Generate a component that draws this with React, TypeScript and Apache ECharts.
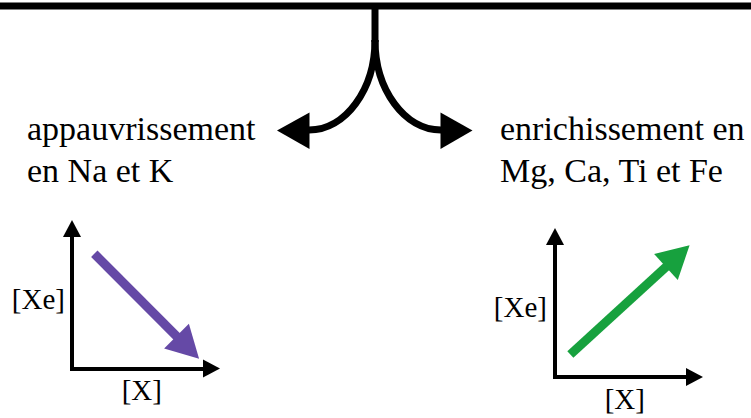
import React, { useEffect, useRef } from "react";
import * as echarts from "echarts";

// Labels of the two branches
const leftLabel = ["appauvrissement", "en Na et K"];
const rightLabel = ["enrichissement en", "Mg, Ca, Ti et Fe"];
// Axis names of the two small plots
const axisNameX = "[X]";
const axisNameY = "[Xe]";
// Trend arrows (start, end) in axis units 0..10
const depletionArrow = [
  [1.6, 8.2],
  [8.3, 1.5],
];
const enrichmentArrow = [
  [1.1, 1.6],
  [8.8, 8.6],
];

const PURPLE = "#6549A6";
const GREEN = "#17A13E";
const SERIF = "Liberation Serif";

function xAxis(gridIndex: number, nameGap: number) {
  return {
    type: "value",
    gridIndex,
    min: 0,
    max: 10,
    name: axisNameX,
    nameLocation: "middle",
    nameGap,
    nameTextStyle: { fontFamily: SERIF, fontSize: 29, color: "#000", verticalAlign: "top" },
    axisLine: {
      show: true,
      onZero: false,
      symbol: ["none", "triangle"],
      symbolSize: [18, 17],
      lineStyle: { color: "#000", width: 4, cap: "square" },
    },
    axisTick: { show: false },
    axisLabel: { show: false },
    splitLine: { show: false },
  };
}

function yAxis(gridIndex: number, nameGap: number) {
  return {
    type: "value",
    gridIndex,
    min: 0,
    max: 10,
    name: axisNameY,
    nameLocation: "middle",
    nameRotate: 0,
    nameGap,
    nameTextStyle: { fontFamily: SERIF, fontSize: 29, color: "#000", align: "right" },
    axisLine: {
      show: true,
      onZero: false,
      symbol: ["none", "triangle"],
      symbolSize: [18, 17],
      lineStyle: { color: "#000", width: 4, cap: "square" },
    },
    axisTick: { show: false },
    axisLabel: { show: false },
    splitLine: { show: false },
  };
}

function arrowSeries(idx: number, coords: number[][], color: string) {
  return {
    type: "lines",
    coordinateSystem: "cartesian2d",
    xAxisIndex: idx,
    yAxisIndex: idx,
    silent: true,
    symbol: ["none", "triangle"],
    symbolSize: [10, [35, 32]],
    lineStyle: { color, width: 9, opacity: 1, curveness: 0 },
    itemStyle: { color },
    data: [{ coords }],
  };
}

function branchLabel(lines: string[], x: number) {
  return {
    text: lines.join("\n"),
    left: x,
    top: 107,
    padding: 0,
    textStyle: {
      fontFamily: SERIF,
      fontSize: 34,
      fontWeight: "normal",
      lineHeight: 42,
      color: "#000",
    },
  };
}

export default function App() {
  const ref = useRef<HTMLDivElement>(null);
  useEffect(() => {
    if (!ref.current) return;
    const chart = echarts.init(ref.current, undefined, { renderer: "svg" });
    const black = { stroke: "#000", lineWidth: 7, fill: null };
    chart.setOption({
      animation: false,
      backgroundColor: "#fff",
      textStyle: { fontFamily: SERIF },
      title: [branchLabel(leftLabel, 27), branchLabel(rightLabel, 500)],
      grid: [
        { left: 72, top: 228.5, width: 139.5, height: 140 },
        { left: 555, top: 236.5, width: 139.5, height: 140.5 },
      ],
      xAxis: [xAxis(0, 7), xAxis(1, 7)],
      yAxis: [yAxis(0, 7), yAxis(1, 8)],
      series: [
        arrowSeries(0, depletionArrow, PURPLE),
        arrowSeries(1, enrichmentArrow, GREEN),
      ],
      graphic: [
        { type: "rect", shape: { x: 0, y: 2.5, width: 751, height: 7 }, style: { fill: "#000" } },
        { type: "rect", shape: { x: 371.5, y: 5, width: 7, height: 37 }, style: { fill: "#000" } },
        {
          type: "bezierCurve",
          shape: { x1: 375, y1: 40, cpx1: 375, cpy1: 89.7, cpx2: 345.4, cpy2: 130, x2: 309, y2: 130 },
          style: black,
        },
        {
          type: "bezierCurve",
          shape: { x1: 375, y1: 40, cpx1: 375, cpy1: 89.7, cpx2: 404.6, cpy2: 130, x2: 441, y2: 130 },
          style: black,
        },
        {
          type: "polygon",
          shape: { points: [[277, 130.5], [309.5, 112.5], [309.5, 149]] },
          style: { fill: "#000" },
        },
        {
          type: "polygon",
          shape: { points: [[472.5, 130.5], [440.5, 112.5], [440.5, 149]] },
          style: { fill: "#000" },
        },
      ],
    });
    return () => chart.dispose();
  }, []);
  return (
    <div
      ref={ref}
      style={{ position: "fixed", left: 0, top: 0, width: 751, height: 418 }}
    />
  );
}
